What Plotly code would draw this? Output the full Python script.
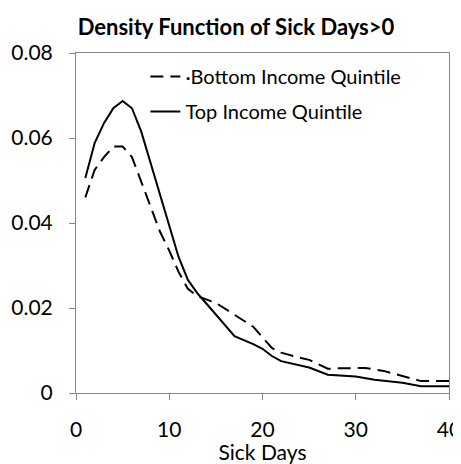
import plotly.graph_objects as go

# Data
days_bottom = [1, 2, 3, 4, 5, 6, 7, 8, 9, 10, 11, 12, 13, 15, 17, 19, 21, 22, 24, 25, 27, 28, 31, 33, 35, 37, 40]
density_bottom = [0.046, 0.0525, 0.0555, 0.058, 0.058, 0.0555, 0.0497, 0.044, 0.038, 0.0335, 0.0285, 0.0245,
                  0.0228, 0.0212, 0.0184, 0.0156, 0.0106, 0.0095, 0.0083, 0.0078, 0.0057, 0.0058, 0.0059,
                  0.0052, 0.004, 0.0028, 0.0028]

days_top = [1, 2, 3, 4, 5, 6, 7, 8, 9, 10, 11, 12, 13, 14, 15, 17, 19, 20, 21, 22, 25, 27, 30, 32, 35, 37, 40]
density_top = [0.0506, 0.0588, 0.0635, 0.067, 0.0687, 0.067, 0.0615, 0.054, 0.047, 0.0395, 0.032, 0.0266,
               0.0235, 0.021, 0.0185, 0.0134, 0.0115, 0.0104, 0.0087, 0.0075, 0.006, 0.0043, 0.0039,
               0.0031, 0.0024, 0.0016, 0.0016]

series_names = ["\u00b7Bottom Income Quintile", "Top Income Quintile"]
x_ticks = [0, 10, 20, 30, 40]
y_ticks = [0, 0.02, 0.04, 0.06, 0.08]
y_tick_labels = ["0", "0.02", "0.04", "0.06", "0.08"]

FONT = "Lato"
W, H = 453, 456  # page body has an 8px margin

fig = go.Figure()
fig.add_trace(go.Scatter(x=days_bottom, y=density_bottom, mode="lines", name=series_names[0],
                         line=dict(color="black", width=2, dash="13px,7px"), legendgroup="a"))
fig.add_trace(go.Scatter(x=days_top, y=density_top, mode="lines", name=series_names[1],
                         line=dict(color="black", width=2), legendgroup="b"))

axis_common = dict(showgrid=False, zeroline=False, showline=True, linecolor="#868686", linewidth=1,
                   mirror=True, ticks="outside", tickcolor="#868686", ticklen=6, automargin=False,
                   ticklabeloverflow="allow",
                   tickfont=dict(family=FONT, size=21, color="black"))

fig.update_layout(
    width=W, height=H,
    margin=dict(l=68, r=12, t=45, b=71),
    paper_bgcolor="white", plot_bgcolor="white",
    title=dict(text="<b>Density Function of Sick Days>0</b>", x=228 / W, xanchor="center",
               y=1 - 19 / H, yanchor="middle", font=dict(family=FONT, size=22, color="black"),
               automargin=False),
    xaxis=dict(range=[0, 40], tickvals=x_ticks, ticktext=[str(v) for v in x_ticks],
               ticklabelstandoff=12,
               title=dict(text="Sick Days", font=dict(family=FONT, size=21, color="black"), standoff=2),
               **axis_common),
    yaxis=dict(range=[0, 0.08], tickvals=y_ticks, ticktext=y_tick_labels, ticklabelstandoff=12,
               **axis_common),
    legend=dict(x=0.186, y=0.988, xanchor="left", yanchor="top", bgcolor="rgba(0,0,0,0)",
                font=dict(family=FONT, size=20, color="black"), tracegroupgap=6, traceorder="grouped",
                itemwidth=30),
    showlegend=True,
)

fig.write_html("out.html")
